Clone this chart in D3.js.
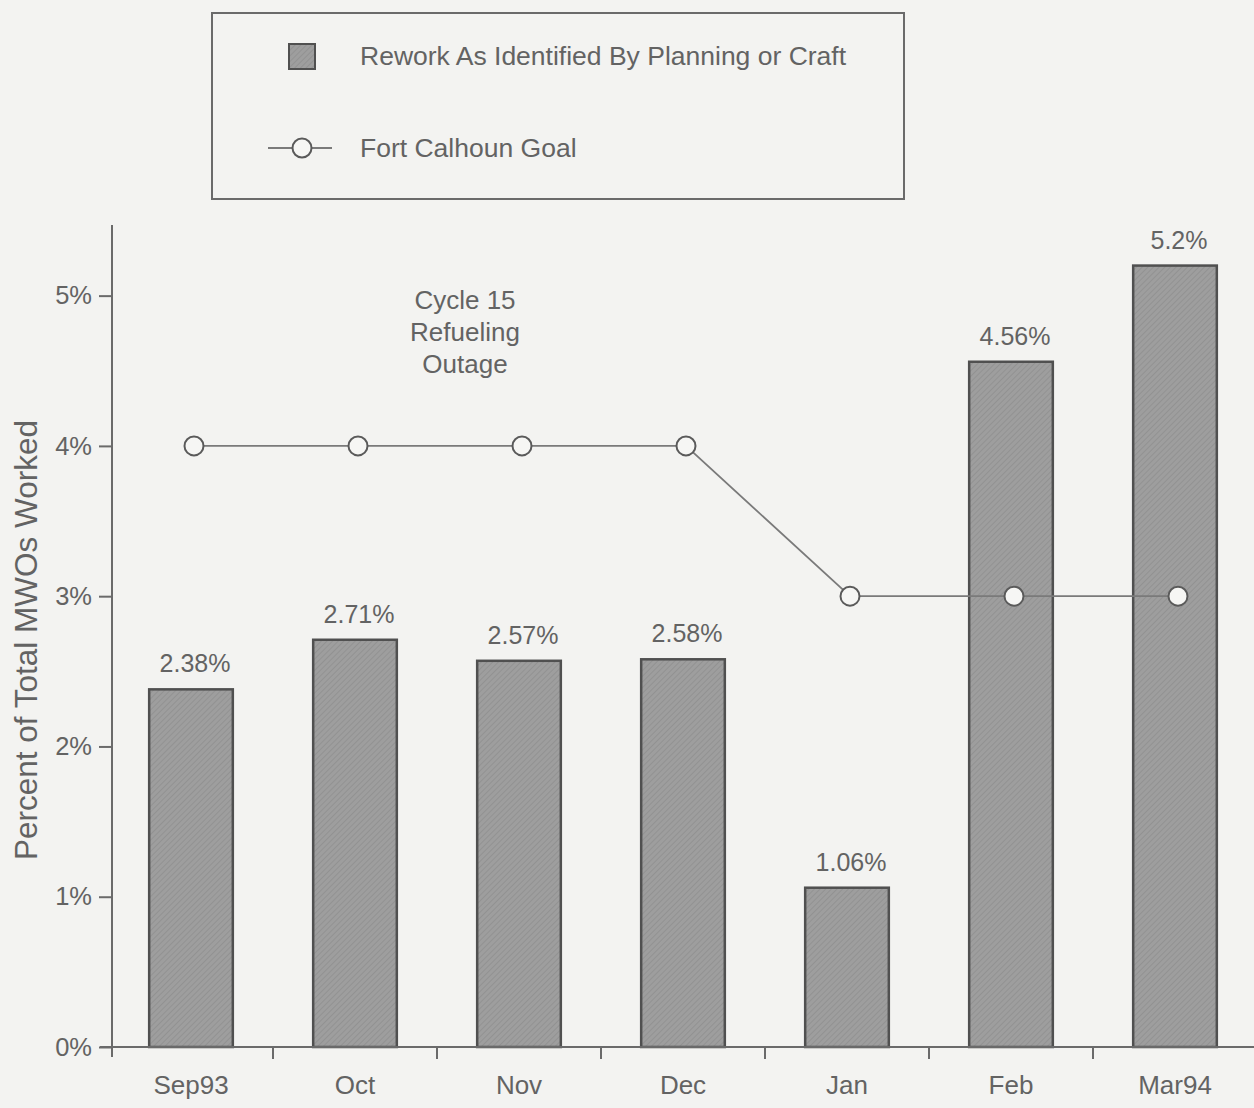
<!DOCTYPE html>
<html><head><meta charset="utf-8">
<script src="https://cdn.jsdelivr.net/npm/d3@7"></script>
<style>
html,body{margin:0;padding:0;background:#f3f3f1;}
svg{display:block;}
text{font-family:"Liberation Sans",Arial,Helvetica,sans-serif;fill:#636363;}
</style></head>
<body><svg id="chart" width="1254" height="1108"></svg>
<script>
const categories = ["Sep93","Oct","Nov","Dec","Jan","Feb","Mar94"];
const reworkValues = [2.38, 2.71, 2.57, 2.58, 1.06, 4.56, 5.2];
const reworkLabels = ["2.38%","2.71%","2.57%","2.58%","1.06%","4.56%","5.2%"];
const goalValues = [4, 4, 4, 4, 3, 3, 3];
const yTicks = [0, 1, 2, 3, 4, 5];
const legendNames = ["Rework As Identified By Planning or Craft", "Fort Calhoun Goal"];
const annotationLines = ["Cycle 15", "Refueling", "Outage"];
const yTitle = "Percent of Total MWOs Worked";

const svg = d3.select("#chart");
const axisColor = "#6a6a6a";
const textFont = "Liberation Sans, Arial, sans-serif";

const x = d3.scaleBand().domain(categories).range([109, 1257]).paddingInner(0.49).paddingOuter(0.245);
const xTickScale = d3.scaleBand().domain(categories).range([109, 1257]);
const y = d3.scaleLinear().domain([0, 5.47]).range([1047, 225]);

// bar texture
const defs = svg.append("defs");
const pat = defs.append("pattern").attr("id","hatch").attr("patternUnits","userSpaceOnUse")
  .attr("width",4).attr("height",4).attr("patternTransform","rotate(45)");
pat.append("rect").attr("width",4).attr("height",4).attr("fill","#9e9e9e");
pat.append("line").attr("x1",0).attr("y1",0).attr("x2",0).attr("y2",4).attr("stroke","#8e8e8e").attr("stroke-width",1.5);

svg.append("g").selectAll("rect").data(reworkValues).join("rect")
  .attr("x",(d,i)=>x(categories[i]))
  .attr("y",d=>y(d))
  .attr("width",x.bandwidth())
  .attr("height",d=>y(0)-y(d))
  .attr("fill","url(#hatch)")
  .attr("stroke","#505050").attr("stroke-width",2.5);

// value labels
svg.append("g").selectAll("text").data(reworkValues).join("text")
  .attr("x",(d,i)=>x(categories[i])+x.bandwidth()/2+4)
  .attr("y",d=>y(d)-17)
  .attr("text-anchor","middle").attr("font-size",25)
  .text((d,i)=>reworkLabels[i]);

// y axis
const yAxis = d3.axisLeft(y).tickValues(yTicks).tickFormat(d=>d+"%").tickSize(13).tickPadding(7);
const gy = svg.append("g").attr("transform","translate(112,0)").call(yAxis);
gy.select(".domain").attr("stroke",axisColor).attr("stroke-width",2).attr("d","M0,225V1057");
gy.selectAll(".tick line").attr("stroke",axisColor).attr("stroke-width",2);
gy.selectAll(".tick text").attr("font-size",25.5).attr("fill","#666").style("font-family",textFont);

// x axis
const xAxis = d3.axisBottom(xTickScale).tickSize(0).tickPadding(29);
const gx = svg.append("g").attr("transform","translate(0,1047)").call(xAxis);
gx.select(".domain").attr("stroke",axisColor).attr("stroke-width",2).attr("d","M100,0H1254");
gx.selectAll(".tick text").attr("font-size",26).attr("fill","#636363").style("font-family",textFont);
// boundary ticks between months
svg.append("g").selectAll("line").data(categories).join("line")
  .attr("x1",d=>xTickScale(d) + xTickScale.step())
  .attr("x2",d=>xTickScale(d) + xTickScale.step())
  .attr("y1",1047).attr("y2",1059)
  .attr("stroke",axisColor).attr("stroke-width",2);

// goal line
const cx = c => x(c) + x.bandwidth()/2 + 3;
const line = d3.line().x((d,i)=>cx(categories[i])).y(d=>y(d));
svg.append("path").datum(goalValues).attr("d",line)
  .attr("fill","none").attr("stroke","#7a7a7a").attr("stroke-width",1.8);
svg.append("g").selectAll("circle").data(goalValues).join("circle")
  .attr("cx",(d,i)=>cx(categories[i])).attr("cy",d=>y(d)).attr("r",9.5)
  .attr("fill","#f6f6f4").attr("stroke","#5a5a5a").attr("stroke-width",2);

// annotation
svg.append("text").attr("x",465).attr("y",309).attr("text-anchor","middle").attr("font-size",26)
  .selectAll("tspan").data(annotationLines).join("tspan")
  .attr("x",465).attr("dy",(d,i)=>i===0?0:32).text(d=>d);

// y title
svg.append("text").attr("transform","translate(37,640) rotate(-90)").attr("text-anchor","middle")
  .attr("font-size",31.5).attr("fill","#666").text(yTitle);

// legend
const lg = svg.append("g");
lg.append("rect").attr("x",212).attr("y",13).attr("width",692).attr("height",186)
  .attr("fill","none").attr("stroke","#6a6a6a").attr("stroke-width",2);
lg.append("rect").attr("x",289).attr("y",44).attr("width",26).attr("height",25)
  .attr("fill","url(#hatch)").attr("stroke","#505050").attr("stroke-width",2);
lg.append("text").attr("x",360).attr("y",65).attr("font-size",26.5).text(legendNames[0]);
lg.append("line").attr("x1",268).attr("x2",332).attr("y1",148).attr("y2",148)
  .attr("stroke","#7a7a7a").attr("stroke-width",1.8);
lg.append("circle").attr("cx",302).attr("cy",148).attr("r",9.5)
  .attr("fill","#f6f6f4").attr("stroke","#5a5a5a").attr("stroke-width",2);
lg.append("text").attr("x",360).attr("y",157).attr("font-size",26.5).text(legendNames[1]);
</script></body></html>
